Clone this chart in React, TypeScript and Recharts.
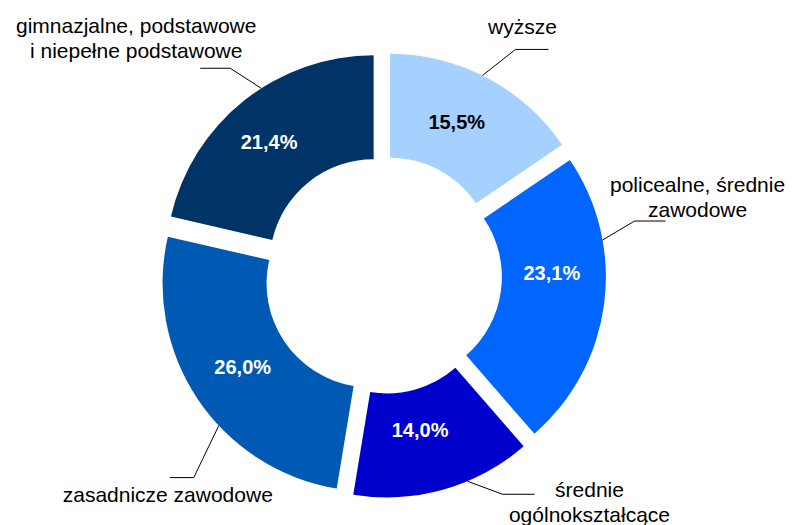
import { PieChart, Pie, Cell, Sector } from "recharts";

// education level shares, clockwise from 12 o'clock
const categories = [
  "wyższe",
  "policealne, średnie zawodowe",
  "średnie ogólnokształcące",
  "zasadnicze zawodowe",
  "gimnazjalne, podstawowe i niepełne podstawowe",
];
const shares = [15.5, 23.1, 14.0, 26.0, 21.4];
// how the category names wrap on the chart
const categoryLines = [
  ["wyższe"],
  ["policealne, średnie", "zawodowe"],
  ["średnie", "ogólnokształcące"],
  ["zasadnicze zawodowe"],
  ["gimnazjalne, podstawowe", "i niepełne podstawowe"],
];

const colors = ["#A6D0FF", "#0066FF", "#0000CC", "#005AB4", "#003366"];
const pctColors = ["#000000", "#ffffff", "#ffffff", "#ffffff", "#ffffff"];

const W = 794;
const H = 525;
const CX = 383;
const CY = 275;
const INNER = 104;
const OUTER = 208;
const EXPLODE = 15;
const RAD = Math.PI / 180;
const FONT = "'Liberation Sans', Arial, sans-serif";

// label placement tweaks (degrees clockwise / px), like the dragged labels in the original
const pctTurn = [-2.4, -9, 2.6, 0.5, -2.3];
const pctRadius = [155, 154, 144, 153, 160];
const callouts = [
  { turn: -1.5, elbow: [33, -26], run: 33, text: [7, -15] },
  { turn: -17.6, elbow: [32, -19], run: 31, text: [63, -29] },
  { turn: -6.9, elbow: [35, 13], run: 32, text: [87, 3] },
  { turn: -9.3, elbow: [-25, 52], run: -24, text: [-26, 24] },
  { turn: 5.8, elbow: [-31, -20], run: -30, text: [-94, -35] },
];

const data = categories.map((name, i) => ({ name, value: shares[i] }));

const fmt = (v: number) => v.toFixed(1).replace(".", ",") + "%";

// centre of a slice after it is pulled out along its middle angle
function shifted(cx: number, cy: number, midAngle: number) {
  const t = (90 - midAngle) * RAD;
  return { x: cx + EXPLODE * Math.sin(t), y: cy - EXPLODE * Math.cos(t) };
}

function ExplodedSector(props: any) {
  const c = shifted(props.cx, props.cy, props.midAngle);
  return <Sector {...props} cx={c.x} cy={c.y} stroke="none" />;
}

function renderLabel(props: any) {
  const { cx, cy, midAngle, index } = props;
  const theta = 90 - midAngle;
  const s = shifted(cx, cy, midAngle);

  const pa = (theta + pctTurn[index]) * RAD;
  const px = s.x + pctRadius[index] * Math.sin(pa);
  const py = s.y - pctRadius[index] * Math.cos(pa);

  const c = callouts[index];
  const la = (theta + c.turn) * RAD;
  const x0 = s.x + OUTER * Math.sin(la);
  const y0 = s.y - OUTER * Math.cos(la);
  const x1 = x0 + c.elbow[0];
  const y1 = y0 + c.elbow[1];
  const x2 = x1 + c.run;
  const tx = x1 + c.text[0];
  const ty = y1 + c.text[1];

  return (
    <g key={`lbl-${index}`}>
      <text
        x={px}
        y={py + 7}
        textAnchor="middle"
        fill={pctColors[index]}
        fontFamily={FONT}
        fontWeight="bold"
        fontSize={20}
      >
        {fmt(shares[index])}
      </text>
      <polyline
        points={`${x0},${y0} ${x1},${y1} ${x2},${y1}`}
        fill="none"
        stroke="#000"
        strokeWidth={1}
      />
      <text x={tx} y={ty} textAnchor="middle" fill="#000" fontFamily={FONT} fontSize={21}>
        {categoryLines[index].map((line, i) => (
          <tspan key={i} x={tx} dy={i === 0 ? 0 : 24.5}>
            {line}
          </tspan>
        ))}
      </text>
    </g>
  );
}

export default function App() {
  return (
    <div style={{ position: "absolute", left: 0, top: 0, width: W, height: H, background: "#fff" }}>
      <PieChart width={W} height={H} margin={{ top: 0, right: 0, bottom: 0, left: 0 }}>
        <Pie
          data={data}
          dataKey="value"
          nameKey="name"
          cx={CX}
          cy={CY}
          innerRadius={INNER}
          outerRadius={OUTER}
          startAngle={90}
          endAngle={-270}
          stroke="none"
          shape={ExplodedSector}
          label={renderLabel}
          labelLine={false}
          isAnimationActive={false}
        >
          {data.map((d, i) => (
            <Cell key={d.name} fill={colors[i]} />
          ))}
        </Pie>
      </PieChart>
    </div>
  );
}
